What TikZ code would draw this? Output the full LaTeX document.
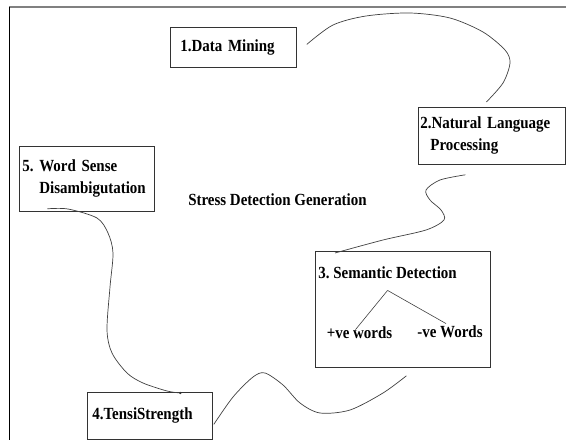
\documentclass[tikz,border=0pt]{standalone}
\usepackage{fontspec}
\setmainfont{Liberation Serif}
\newfontfamily\tallserif[FakeStretch=0.88]{Liberation Serif}

\begin{document}
\frenchspacing
\begin{tikzpicture}[x=1pt, y=1pt, line width=.8pt,
    stage/.style={draw=black!80, anchor=north west, align=left, inner ysep=0pt,
        font=\tallserif\fontsize{17}{22}\selectfont\bfseries},
    lbl/.style={inner sep=0pt, font=\tallserif\fontsize{17}{18}\selectfont\bfseries},
    wave/.style={draw=black!75, line width=.7pt}]
\useasboundingbox (0,0) rectangle (566,440);

% frame
\draw[gray, line width=1.5pt] (9,433) -- (566,433);
\draw[line width=1pt] (9,433) -- (9,0);

% the five stages
\node[stage, minimum width=126pt, minimum height=40pt, text width=106pt, inner xsep=10pt] (dm) at (170,413) {1.Data Mining};
\node[stage, minimum width=147pt, minimum height=57pt, text width=143pt, inner xsep=2pt] (nlp) at (418,333) {2.Natural Language\\\hspace*{10pt}Processing};
\node[stage, minimum width=175pt, minimum height=116pt] (sd) at (315,189) {};
\node[stage, minimum width=125pt, minimum height=47pt, text width=115pt, inner xsep=5pt] (ts) at (87,48) {4.TensiStrength};
\node[stage, minimum width=135pt, minimum height=65pt, text width=129pt, inner xsep=3pt] (wsd) at (19,294) {5. Word Sense\\\hspace*{17pt}Disambigutation};

\node[lbl] (sdg) at (277.5,240) {Stress Detection Generation};

% inside semantic detection
\node[lbl, anchor=west] (sdt) at (318,167) {3. Semantic Detection};
\node[lbl] (pos) at (359.5,107) {+ve words};
\node[lbl] (neg) at (450,108) {-ve Words};
\coordinate (fork) at ([yshift=-11pt]sdt.south);
\draw[line width=.6pt, black!75] (fork) -- ([shift={(-4,-3)}]pos.north);
\draw[line width=.6pt, black!75] (fork) -- ([shift={(-4,2)}]neg.north);

% free ends of the waves
\coordinate (dm-out) at ([shift={(10,3)}]dm.east);
\coordinate (nlp-in) at ([shift={(-5.5,5)}]nlp.north);
\coordinate (nlp-out) at ([shift={(-26.5,-10)}]nlp.south);
\coordinate (sd-in) at ([shift={(20,-2)}]sd.north west);
\coordinate (wsd-out) at ([shift={(-39.5,3)}]wsd.south);
\coordinate (ts-in) at ([shift={(30.5,-1)}]ts.north);
\coordinate (ts-out) at ([shift={(1,-8.5)}]ts.east);
\coordinate (sd-in2) at ([shift={(3.5,-8)}]sd.south);

\draw[wave] plot[smooth] coordinates {(dm-out) (333,415) (366,424) (410,427) (450,422) (483,408) (505,390) (510,377) (503,357) (nlp-in)};
\draw[wave] plot[smooth] coordinates {(nlp-out) (440,260) (426,250) (430,240) (441,230) (444,220) (426,210) (383,200) (sd-in)};
\draw[wave] plot[smooth] coordinates {(wsd-out) (68,231) (97,222) (108,207) (113,187) (110,153) (107,110) (112,87) (127,67) (143,57) (167,49) (ts-in)};
\fill[black!80] (ts-in) circle (1.2);
\draw[wave] plot[smooth] coordinates {(ts-out) (233,43) (253,63) (265,67) (283,55) (300,37) (320,27) (350,30) (383,47) (sd-in2)};

%\node at (283,5) {};
\end{tikzpicture}
\end{document}
